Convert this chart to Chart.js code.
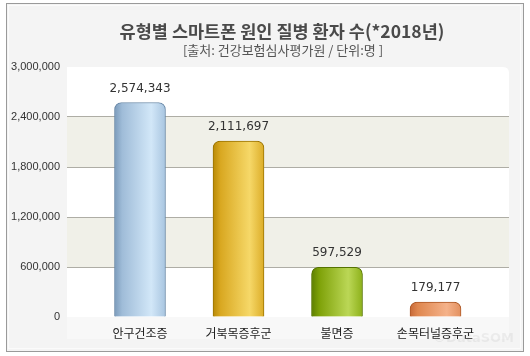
<!DOCTYPE html>
<html><head><meta charset="utf-8">
<script src="https://cdn.jsdelivr.net/npm/chart.js@4"></script>
<style>html,body{margin:0;padding:0;background:#fff}#wrap{width:530px;height:356px}</style>
</head><body><div id="wrap"><canvas id="c" width="530" height="356"></canvas></div>
<script>
const titleText = '유형별 스마트폰 원인 질병 환자 수(*2018년)';
const subtitleText = '[출처: 건강보험심사평가원 / 단위:명 ]';
const categories = ['안구건조증', '거북목증후군', '불면증', '손목터널증후군'];
const values = [2574343, 2111697, 597529, 179177];
const yTicks = [0, 600000, 1200000, 1800000, 2400000, 3000000];
const barColors = [
  {stops:['#7b9bbb','#9fbcd8','#d2e7f8','#a8c5e0'], border:'#6a89a8'},
  {stops:['#b98a06','#d9a821','#f6d868','#dcad28'], border:'#9a7300'},
  {stops:['#5d7f00','#7ea108','#bbd756','#8db11a'], border:'#557300'},
  {stops:['#c76937','#df874f','#f5b28a','#e2905f'], border:'#ad5826'}
];
const fmt = v => v.toLocaleString('en-US');

function grad(ctx) {
  const chart = ctx.chart, i = ctx.dataIndex, c = barColors[i];
  const sx = chart.scales && chart.scales.x;
  if (!c) return '#888';
  if (!chart.chartArea || !sx) return c.stops[2];
  const cx = sx.getPixelForValue(i);
  const g = chart.ctx.createLinearGradient(cx - 25.5, 0, cx + 25.5, 0);
  g.addColorStop(0, c.stops[0]); g.addColorStop(0.15, c.stops[1]);
  g.addColorStop(0.72, c.stops[2]); g.addColorStop(1, c.stops[3]);
  return g;
}

const bgPlugin = {
  id: 'bg',
  beforeDraw(chart) {
    const {ctx, chartArea: a, scales: {y}} = chart;
    ctx.save();
    ctx.fillStyle = '#ffffff'; ctx.fillRect(0, 0, 530, 356);
    ctx.fillStyle = '#f4f4f4'; ctx.fillRect(6, 3, 517, 348);
    ctx.strokeStyle = '#fbfbfb'; ctx.lineWidth = 1; ctx.strokeRect(8.5, 5.5, 512, 343);
    ctx.strokeStyle = '#9a9a9a'; ctx.strokeRect(6.5, 3.5, 517, 348);
    ctx.fillStyle = '#ffffff';
    ctx.beginPath();
    const r = 6;
    ctx.moveTo(a.left, a.top); ctx.lineTo(a.right - r, a.top);
    ctx.quadraticCurveTo(a.right, a.top, a.right, a.top + r);
    ctx.lineTo(a.right, a.bottom); ctx.lineTo(a.left, a.bottom); ctx.closePath();
    ctx.fill();
    ctx.fillStyle = '#f0f0e8';
    for (let k = 1; k < yTicks.length - 1; k += 2) {
      const t = y.getPixelForValue(yTicks[k + 1]), b = y.getPixelForValue(yTicks[k]);
      ctx.fillRect(a.left, t, a.right - a.left, b - t);
    }
    ctx.fillStyle = '#f8f8f8';
    ctx.fillRect(a.left, a.bottom, a.right - a.left, 22);
    // title + subtitle
    ctx.textAlign = 'center'; ctx.textBaseline = 'middle';
    ctx.fillStyle = '#4a4a4a';
    ctx.font = 'bold 17.5px "Noto Sans CJK KR"';
    ctx.fillText(titleText, 282, 31);
    ctx.fillStyle = '#555555';
    ctx.font = '13px "Noto Sans CJK KR"';
    ctx.fillText(subtitleText, 283, 50);
    ctx.restore();
  },
  afterDatasetsDraw(chart) {
    const {ctx} = chart;
    const meta = chart.getDatasetMeta(0);
    ctx.save();
    ctx.font = '12px "DejaVu Sans"';
    ctx.fillStyle = '#333333';
    ctx.textAlign = 'center'; ctx.textBaseline = 'middle';
    meta.data.forEach((el, i) => {
      ctx.fillText(fmt(values[i]), el.x, el.y - 14);
    });
    ctx.font = 'bold 13px "DejaVu Sans"';
    ctx.fillStyle = 'rgba(0,0,0,0.05)';
    ctx.textAlign = 'right';
    ctx.fillText('©DataSOM', 514, 339);
    ctx.restore();
  }
};

new Chart(document.getElementById('c'), {
  type: 'bar',
  data: {
    datasets: [{
      data: values.map((v, i) => ({x: i, y: v})),
      backgroundColor: grad,
      borderColor: ctx => barColors[ctx.dataIndex] ? barColors[ctx.dataIndex].border : '#888',
      borderWidth: 1,
      borderSkipped: 'bottom',
      borderRadius: {topLeft: 7, topRight: 7, bottomLeft: 0, bottomRight: 0},
      barThickness: 51
    }]
  },
  options: {
    responsive: false,
    animation: false,
    devicePixelRatio: 1,
    layout: {padding: {left: 0, right: 21, top: 67, bottom: 0}},
    plugins: {
      legend: {display: false},
      tooltip: {enabled: false},
      title: {display: false},
      subtitle: {display: false}
    },
    scales: {
      x: {
        type: 'linear', min: -0.741, max: 3.746, offset: false,
        grid: {display: false}, border: {display: false},
        afterBuildTicks: s => { s.ticks = categories.map((_, i) => ({value: i})); },
        afterFit: s => { s.height = 39; s.paddingLeft = 0; s.paddingRight = 0; },
        ticks: {
          autoSkip: false, maxRotation: 0, padding: 1,
          color: '#222222',
          font: {family: '"Noto Sans CJK KR"', size: 12},
          callback: v => categories[v]
        }
      },
      y: {
        min: 0, max: 3000000,
        afterBuildTicks: s => { s.ticks = yTicks.map(v => ({value: v})); },
        afterFit: s => { s.width = 67; s.paddingTop = 0; s.paddingBottom = 0; },
        grid: {
          drawTicks: false,
          color: c => (c.tick && (c.tick.value === 0 || c.tick.value === 3000000)) ? 'rgba(0,0,0,0)' : '#aeada5',
          lineWidth: 1
        },
        border: {display: false},
        ticks: {
          padding: 7, color: '#333333',
          font: {family: '"Liberation Sans"', size: 11},
          callback: v => fmt(v)
        }
      }
    }
  },
  plugins: [bgPlugin]
});
</script></body></html>
